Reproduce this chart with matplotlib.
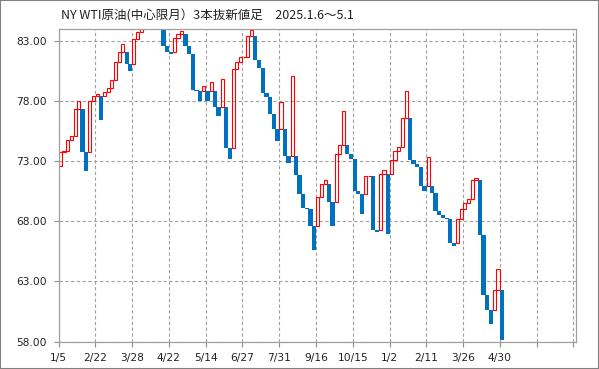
import numpy as np
import matplotlib
matplotlib.use('agg')
import matplotlib.pyplot as plt
from matplotlib.patches import Rectangle

# 3-line break boxes (start price, end price)
box_open = [72.61, 73.78, 73.89, 74.75, 75.08, 77.33, 77.33, 73.78, 73.78, 78.03,
            78.42, 78.42, 78.42, 78.75, 79.08, 79.75, 81.22, 82.11, 82.11, 81.06,
            81.06, 83.14, 83.78, 84.60, 85.50, 85.50, 85.00, 84.50, 84.10, 82.61,
            82.06, 82.06, 83.28, 83.56, 83.56, 82.61, 81.89, 78.92, 78.83, 78.83,
            78.83, 78.83, 78.83, 77.53, 77.53, 77.53, 74.11, 74.11, 80.67, 81.22,
            81.64, 81.69, 83.42, 83.42, 81.42, 80.72, 78.64, 78.36, 76.89, 75.72,
            75.72, 75.72, 73.44, 73.44, 73.44, 71.83, 70.31, 69.11, 69.06, 67.61,
            67.61, 70.03, 71.14, 71.14, 69.61, 69.61, 73.64, 74.31, 74.31, 73.56,
            73.22, 70.50, 70.31, 70.31, 71.75, 71.75, 67.30, 67.30, 71.97, 71.97,
            71.97, 73.06, 73.89, 74.22, 76.56, 76.56, 73.11, 72.75, 72.50, 70.94,
            70.94, 70.94, 70.36, 68.86, 68.56, 68.28, 68.22, 66.19, 66.19, 68.22,
            69.06, 69.56, 69.89, 71.42, 71.42, 66.89, 61.89, 60.64, 60.64, 62.31,
            62.31]
box_close = [73.78, 73.89, 74.75, 75.08, 77.33, 78.00, 73.78, 72.19, 78.03, 78.42,
             78.58, 76.44, 78.75, 79.08, 79.75, 81.22, 82.11, 82.72, 81.06, 80.53,
             83.14, 83.78, 84.60, 85.50, 86.40, 85.00, 84.50, 84.10, 82.61, 82.06,
             81.89, 83.28, 83.56, 83.83, 82.61, 81.89, 78.92, 78.83, 78.00, 79.22,
             78.00, 79.56, 77.53, 76.78, 79.81, 74.11, 73.17, 80.67, 81.22, 81.64,
             81.69, 83.42, 83.89, 81.42, 80.72, 78.64, 78.36, 76.89, 75.72, 74.69,
             77.89, 73.44, 72.89, 80.08, 71.83, 70.31, 69.11, 69.06, 67.61, 65.58,
             70.03, 71.14, 71.47, 69.61, 67.61, 73.64, 74.31, 77.17, 73.56, 73.22,
             70.50, 70.31, 68.61, 71.75, 71.81, 67.30, 67.10, 71.97, 72.28, 66.97,
             73.06, 73.89, 74.22, 76.56, 78.83, 73.11, 72.75, 72.50, 70.94, 70.53,
             73.31, 70.36, 68.86, 68.56, 68.28, 68.22, 66.19, 65.94, 68.22, 69.06,
             69.56, 69.89, 71.42, 71.64, 66.89, 61.89, 60.64, 59.47, 62.31, 64.00,
             58.14]

x_labels = ['1/5', '2/22', '3/28', '4/22', '5/14', '6/27', '7/31', '9/16',
            '10/15', '1/2', '2/11', '3/26', '4/30', '', '']
y_ticks = [58, 63, 68, 73, 78, 83]
title = 'NY WTI原油(中心限月）3本抜新値足　2025.1.6〜5.1'

o = np.array(box_open)
c = np.array(box_close)
x = np.arange(len(o))
up = c > o

fig = plt.figure(figsize=(5.99, 3.69), dpi=100)
ax = fig.add_axes([58.5/599, 1-341.5/369, (576-58.5)/599, (341.5-29)/369])

ax.set_axisbelow(True)
ax.grid(True, color='#a0a0a0', linestyle=(0, (3, 2.2)), linewidth=0.8)

# down boxes: filled blue, a bit wider than the column
ax.bar(x[~up] - 0.05, (o - c)[~up], bottom=c[~up], width=1.15, align='edge',
       color='#0070c0', linewidth=0)
# up boxes: hollow red
ax.bar(x[up] + 0.08, (c - o)[up], bottom=o[up], width=0.84, align='edge',
       fill=False, edgecolor='#ff0000', linewidth=0.8)

ax.set_xlim(0, 140.7)
ax.set_ylim(58, 84)
ax.set_xticks(np.arange(0, 141, 10))
ax.set_xticklabels(x_labels)
ax.set_yticks(y_ticks)
ax.set_yticklabels(['%.2f' % v for v in y_ticks])

for s in ax.spines.values():
    s.set_color('#a0a0a0')
    s.set_linewidth(0.9)
ax.tick_params(axis='both', colors='#909090', labelcolor='#222222', labelsize=7.7, width=0.8)
ax.tick_params(axis='y', length=3.5, pad=5)
ax.tick_params(axis='x', length=3.5, pad=5)

fig.text(61/599, 1-16/369, title, fontsize=9, color='#222222', va='center', ha='left',
         family=['Noto Sans CJK JP', 'DejaVu Sans'])

fig.patches.append(Rectangle((0, 0), 1, 1, transform=fig.transFigure, fill=False,
                             edgecolor='#808080', linewidth=1.5))

fig.savefig('out.png', dpi=100)
